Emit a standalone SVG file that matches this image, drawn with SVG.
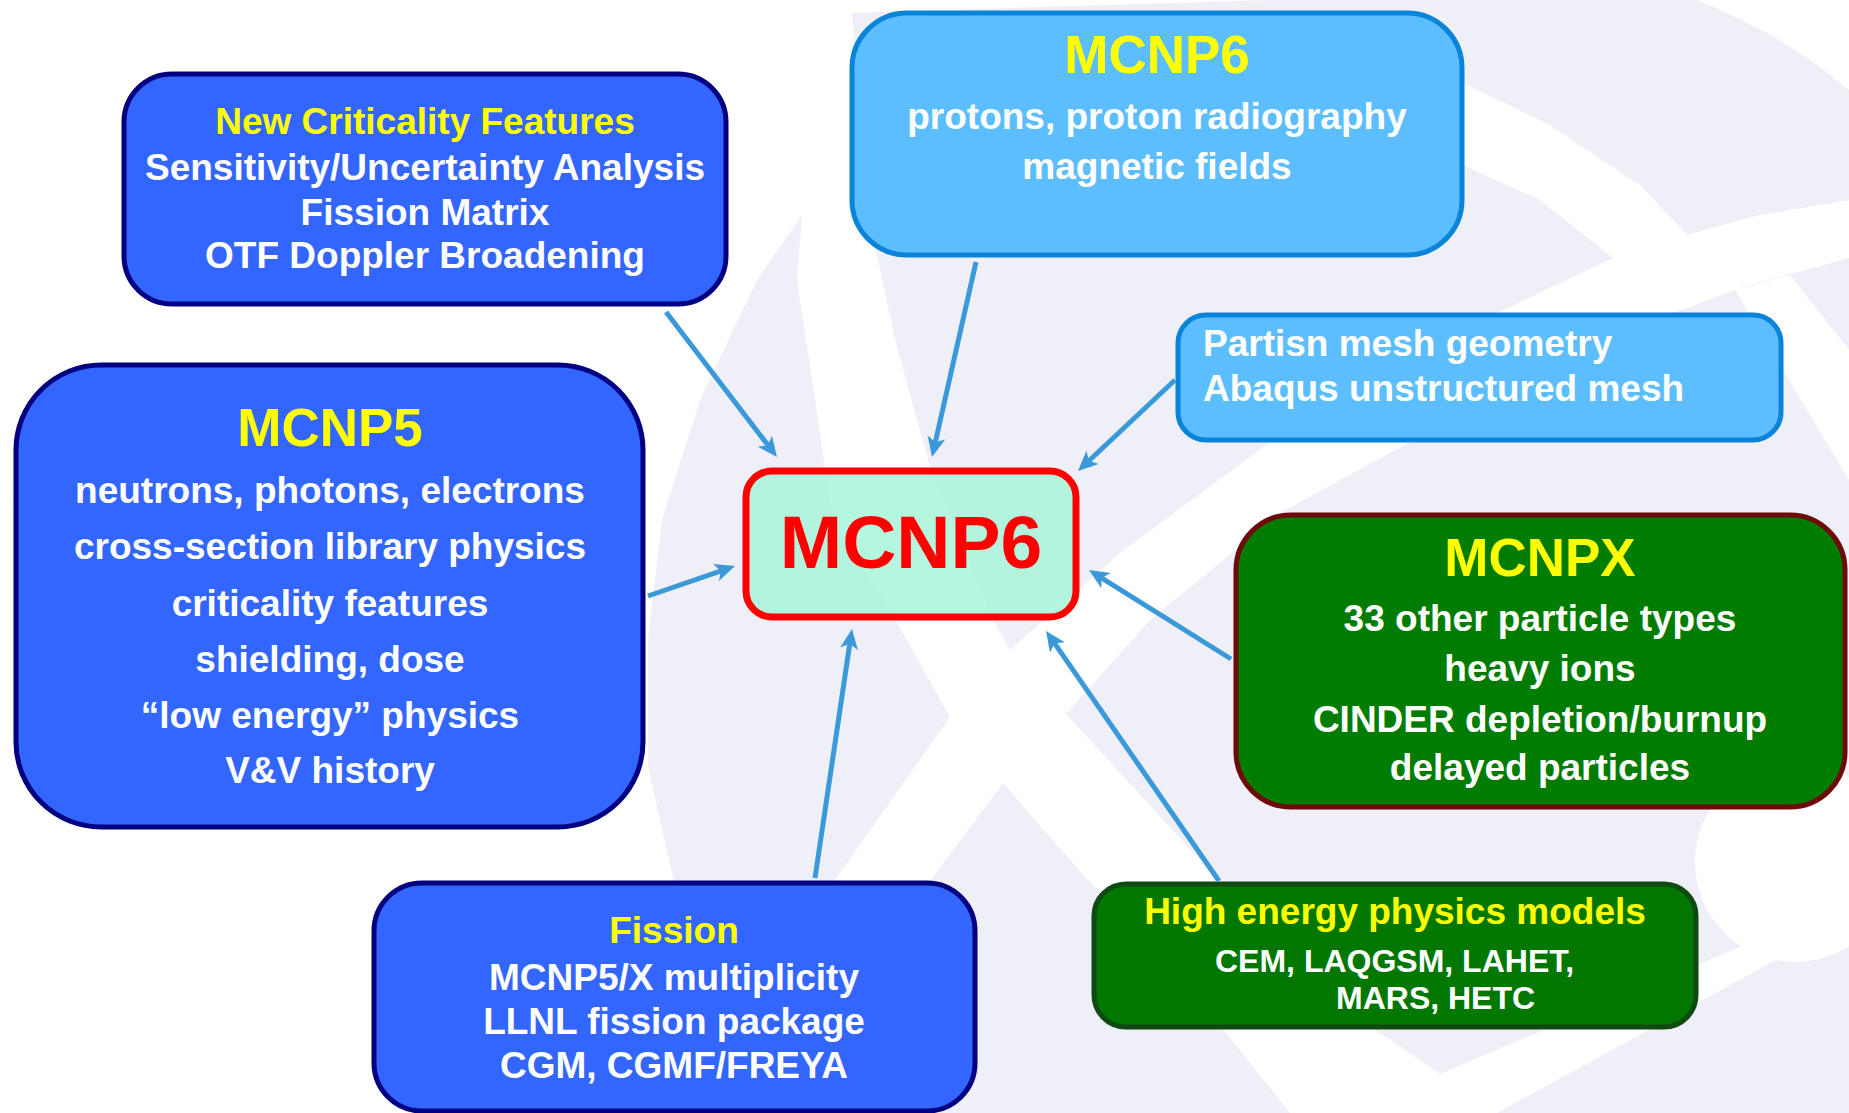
<svg xmlns="http://www.w3.org/2000/svg" width="1849" height="1113" viewBox="0 0 1849 1113">
<defs>
<style>
.t{font-family:"Liberation Sans",Arial,Helvetica,sans-serif;font-weight:bold;text-anchor:middle;fill:#FFFFFF}
.y{fill:#FFFF00}
.s37{font-size:37px}
.s53{font-size:53px}
.wm{fill:#EFEFF7}
.wh{fill:#FFFFFF}
.blue{fill:#3366FF;stroke:#000080;stroke-width:5}
.lblue{fill:#5CBEFF;stroke:#0A84D8;stroke-width:5}
.conn{stroke:#3A9AD9;stroke-width:5;fill:none;marker-end:url(#ah)}
</style>
<marker id="ah" markerUnits="userSpaceOnUse" markerWidth="22" markerHeight="20" refX="10" refY="9" orient="auto">
<path d="M0,0 L20,9 L0,18 L5,9 Z" fill="#3A9AD9"/>
</marker>
</defs>
<rect x="0" y="0" width="1849" height="1113" fill="#FFFFFF"/>
<g id="watermark">
<path class="wm" d="M802,215 L757,280 L700,400 L662,520 L648,640 L648,767 L673,877 L690,960 L780,960 L837,877 L950,717 L890,610 L833,520 L815,400 L797,280 Z"/>
<path class="wm" d="M1010,650 L993,620 L930,467 L895,340 L876,250 L860,120 L852,13 L1266,0 L1697,0 Q1785,35 1849,90 L1849,200 L1760,215 L1687,235 L1640,185 L1550,125 L1463,83 L1463,165 L1540,200 L1613,258 L1497,313 L1273,440 L1120,553 Z"/>
<path class="wm" d="M1066,714 L1150,620 L1280,513 L1450,420 L1600,340 L1743,287 L1849,258 L1849,940 L1747,944 L1440,1074 L1377,1031 L1330,1010 L1200,860 Z"/>
<path class="wm" d="M1497,1113 L1849,920 L1849,1113 Z"/>
<path class="wm" d="M1003,783 L933,877 L757,1113 L1290,1113 L1200,1000 L1079,870 Z"/>
<circle class="wh" cx="1795" cy="862" r="100"/>
<path class="wh" d="M1735,290 L1790,275 L1849,350 L1849,480 Z"/>
</g>
<g id="node-new-criticality">
<rect class="blue" x="124" y="74" width="602" height="230" rx="48"/>
<text class="t y s37" x="425" y="134">New Criticality Features</text>
<text class="t s37" x="425" y="179.5">Sensitivity/Uncertainty Analysis</text>
<text class="t s37" x="425" y="224.5">Fission Matrix</text>
<text class="t s37" x="425" y="268">OTF Doppler Broadening</text>
</g>
<g id="node-mcnp6-top">
<rect class="lblue" x="852" y="13" width="610" height="242" rx="55"/>
<text class="t y s53" x="1157" y="73">MCNP6</text>
<text class="t s37" x="1157" y="128.5">protons, proton radiography</text>
<text class="t s37" x="1157" y="179">magnetic fields</text>
</g>
<g id="node-partisn">
<rect class="lblue" x="1178" y="315" width="603" height="125" rx="28"/>
<text class="t s37" x="1203" y="355.5" style="text-anchor:start">Partisn mesh geometry</text>
<text class="t s37" x="1203" y="401" style="text-anchor:start">Abaqus unstructured mesh</text>
</g>
<g id="node-mcnp5">
<rect class="blue" x="16" y="365" width="627" height="462" rx="85"/>
<text class="t y s53" x="330" y="446">MCNP5</text>
<text class="t s37" x="330" y="503">neutrons, photons, electrons</text>
<text class="t s37" x="330" y="559">cross-section library physics</text>
<text class="t s37" x="330" y="616">criticality features</text>
<text class="t s37" x="330" y="672">shielding, dose</text>
<text class="t s37" x="330" y="728">“low energy” physics</text>
<text class="t s37" x="330" y="783">V&amp;V history</text>
</g>
<g id="node-mcnp6-center">
<rect x="746" y="471" width="330" height="146" rx="26" fill="#A8F5D9" fill-opacity="0.85" stroke="#FF0000" stroke-width="7"/>
<text class="t" x="911" y="568" style="font-size:75px;fill:#FF0000">MCNP6</text>
</g>
<g id="node-mcnpx">
<rect x="1236" y="515" width="609" height="292" rx="55" fill="#007D00" stroke="#6E0A0A" stroke-width="5"/>
<text class="t y s53" x="1540" y="576">MCNPX</text>
<text class="t s37" x="1540" y="631">33 other particle types</text>
<text class="t s37" x="1540" y="681">heavy ions</text>
<text class="t s37" x="1540" y="732">CINDER depletion/burnup</text>
<text class="t s37" x="1540" y="780">delayed particles</text>
</g>
<g id="node-high-energy">
<rect x="1094" y="884" width="602" height="143" rx="32" fill="#007800" stroke="#0E4A12" stroke-width="5"/>
<text class="t y s37" x="1395" y="924">High energy physics models</text>
<text class="t" x="1215" y="972" style="font-size:32px;text-anchor:start">CEM, LAQGSM, LAHET,</text>
<text class="t" x="1336" y="1009" style="font-size:32px;text-anchor:start">MARS, HETC</text>
</g>
<g id="node-fission">
<rect class="blue" x="374" y="883" width="601" height="228" rx="48"/>
<text class="t y s37" x="674" y="943">Fission</text>
<text class="t s37" x="674" y="990">MCNP5/X multiplicity</text>
<text class="t s37" x="674" y="1034">LLNL fission package</text>
<text class="t s37" x="674" y="1078">CGM, CGMF/FREYA</text>
</g>
<g id="connectors">
<line class="conn" x1="666" y1="312" x2="770.9" y2="449.1"/>
<line class="conn" x1="976" y1="262" x2="934.2" y2="447.2"/>
<line class="conn" x1="1175" y1="380" x2="1085.3" y2="464.2"/>
<line class="conn" x1="648" y1="596" x2="725.5" y2="569.3"/>
<line class="conn" x1="815" y1="878" x2="850.5" y2="638.9"/>
<line class="conn" x1="1231" y1="659" x2="1097.5" y2="575.3"/>
<line class="conn" x1="1219" y1="881" x2="1051.7" y2="639.2"/>
</g>
</svg>
